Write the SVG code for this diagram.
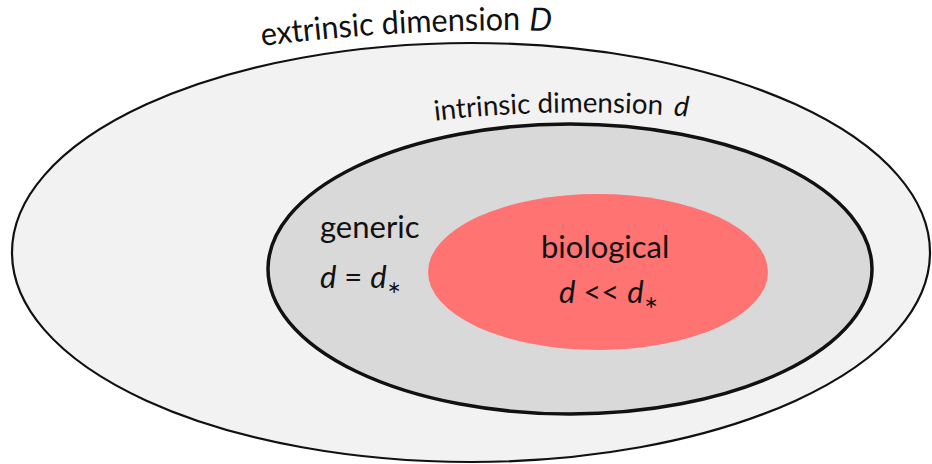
<svg xmlns="http://www.w3.org/2000/svg" xmlns:xlink="http://www.w3.org/1999/xlink" width="932" height="464" viewBox="0 0 932 464">
<style>
.t{font-family:Lato,"Noto Sans","Liberation Sans",sans-serif;fill:#111}
.i{font-style:italic}
.sub{font-size:17px}
</style>
<defs>
<path id="pe" d="M 255 47 Q 406 27 565 31"/>
<path id="pi" d="M 432 121 Q 561 106 692 117"/>
</defs>
<rect width="932" height="464" fill="#ffffff"/>
<g id="extrinsic">
<ellipse cx="471" cy="252.5" rx="459" ry="209.5" fill="#f2f2f2" stroke="#111" stroke-width="2.2"/>
<text class="t" font-size="32" textLength="259" lengthAdjust="spacingAndGlyphs"><textPath href="#pe" xlink:href="#pe" startOffset="7">extrinsic dimension</textPath></text>
<text class="t i" font-size="32"><textPath href="#pe" xlink:href="#pe" startOffset="275">D</textPath></text>
</g>
<g id="intrinsic">
<ellipse cx="570" cy="269" rx="302" ry="145" fill="#d9d9d9" stroke="#111" stroke-width="3.5"/>
<text class="t" font-size="28" textLength="228" lengthAdjust="spacingAndGlyphs"><textPath href="#pi" xlink:href="#pi" startOffset="3">intrinsic dimension</textPath></text>
<text class="t i" font-size="28"><textPath href="#pi" xlink:href="#pi" startOffset="242">d</textPath></text>
<text class="t" x="320" y="238" font-size="31">generic</text>
<text class="t" x="320" y="288" font-size="31"><tspan class="i">d</tspan> = <tspan class="i">d</tspan><tspan class="sub" dy="5">∗</tspan></text>
</g>
<g id="biological">
<ellipse cx="598" cy="272" rx="170" ry="78" fill="#ff7373"/>
<text class="t" x="541" y="258" font-size="31">biological</text>
<text class="t" x="559" y="303" font-size="31"><tspan class="i">d</tspan> &lt;&lt; <tspan class="i">d</tspan><tspan class="sub" dy="5">∗</tspan></text>
</g>
<g id="connectors"/>
</svg>
